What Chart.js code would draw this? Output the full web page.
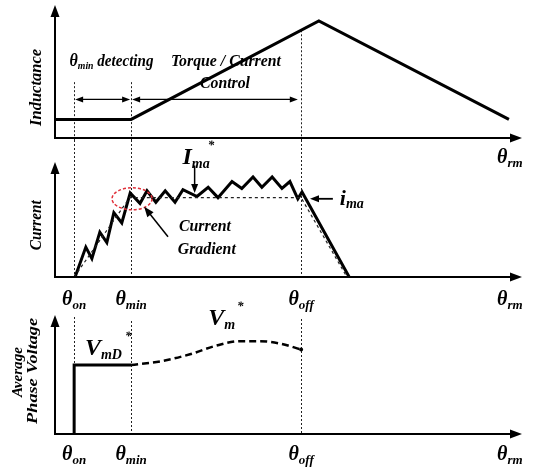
<!DOCTYPE html>
<html>
<head>
<meta charset="utf-8">
<script src="https://cdn.jsdelivr.net/npm/chart.js@4.4.0/dist/chart.umd.min.js"></script>
<style>
    html, body { margin: 0; padding: 0; background: #fff; }
    #lienzo { position: relative; width: 534px; height: 468px; overflow: hidden; }
    #lienzo canvas { position: absolute; left: 0; }
</style>
</head>
<body>
<div id="lienzo">
    <canvas id="graficaInductancia" width="534" height="170" style="top:0px"></canvas>
    <canvas id="graficaCorriente" width="534" height="175" style="top:140px"></canvas>
    <canvas id="graficaTension" width="534" height="168" style="top:300px"></canvas>
</div>
<script>
// posiciones angulares (unidades del eje theta_rm, 0..100)
const thetaOn = 4.1;
const thetaMin = 16.3;
const thetaOff = 52.7;
const thetaRm = 97.4;
const ticksTheta = [thetaOn, thetaMin, thetaOff, thetaRm];
const ticksSub = ['on', 'min', 'off', 'rm'];

// inductancia
const inductanciaX = [0, 16.3, 56.5, 97.2];
const inductanciaY = [1.4, 1.4, 8.8, 1.4];

// corriente de fase i_ma y referencia I_ma*
const corrienteX = [4.3, 6.6, 7.9, 9.6, 11.1, 12.6, 14.3, 16.1, 18.2, 19.7, 21.6, 23.6, 25.7, 27.4,
    30.4, 32.8, 34.9, 37.9, 40.0, 42.4, 44.3, 46.5, 48.6, 50.3, 52.0, 52.9, 63.0];
const corrienteY = [0, 2.6, 1.6, 3.9, 3.0, 5.6, 4.7, 7.3, 6.4, 7.5, 6.5, 7.5, 6.5, 7.6,
    7.0, 7.8, 6.9, 8.3, 7.7, 8.7, 7.8, 8.7, 7.7, 8.3, 6.8, 7.4, 0];
const referenciaX = [4.1, 16.0, 52.7, 62.5];
const referenciaY = [0, 6.9, 6.9, 0];

// tension media de fase
const tensionX = [4.1, 4.1, 16.3];
const tensionY = [0, 5.8, 5.8];
const tensionRefX = [16.3, 22.5, 28.9, 34.3, 39.6, 43.9, 48.2, 52.7];
const tensionRefY = [5.8, 6.1, 6.7, 7.4, 7.8, 7.8, 7.6, 7.1];

const FUENTE = '"Liberation Serif", "DejaVu Serif", serif';

function puntos(xs, ys) {
    return xs.map((x, i) => ({ x: x, y: ys[i] }));
}

function flecha(ctx, x, y, ang, largo, ancho) {
    ctx.save();
    ctx.translate(x, y);
    ctx.rotate(ang);
    ctx.beginPath();
    ctx.moveTo(0, 0);
    ctx.lineTo(-largo, -ancho);
    ctx.lineTo(-largo, ancho);
    ctx.closePath();
    ctx.fill();
    ctx.restore();
}

function lineaFlecha(ctx, x1, y1, x2, y2, grosor, largo, punta, doble) {
    const ang = Math.atan2(y2 - y1, x2 - x1);
    const c = Math.cos(ang), s = Math.sin(ang);
    ctx.save();
    ctx.strokeStyle = '#000';
    ctx.fillStyle = '#000';
    ctx.lineWidth = grosor;
    ctx.beginPath();
    if (doble) ctx.moveTo(x1 + c * largo * 0.7, y1 + s * largo * 0.7);
    else ctx.moveTo(x1, y1);
    ctx.lineTo(x2 - c * largo * 0.7, y2 - s * largo * 0.7);
    ctx.stroke();
    flecha(ctx, x2, y2, ang, largo, punta);
    if (doble) flecha(ctx, x1, y1, ang + Math.PI, largo, punta);
    ctx.restore();
}

// partes: [texto, tamano, dy, dx]
function texto(ctx, x, y, partes, opts = {}) {
    ctx.save();
    ctx.fillStyle = '#000';
    let total = 0;
    const medidas = partes.map(p => {
        ctx.font = `bold italic ${p[1]}px ${FUENTE}`;
        const w = ctx.measureText(p[0]).width;
        total += w;
        return w;
    });
    const esc = opts.ancho ? opts.ancho / total : 1;
    ctx.translate(x, y);
    if (opts.rot) ctx.rotate(opts.rot);
    ctx.scale(esc, 1);
    ctx.textBaseline = 'alphabetic';
    let cx = opts.align === 'left' ? 0 : -total / 2;
    partes.forEach((p, i) => {
        ctx.font = `bold italic ${p[1]}px ${FUENTE}`;
        ctx.fillText(p[0], cx + (p[3] || 0), p[2] || 0);
        cx += medidas[i];
    });
    ctx.restore();
}

function ejes(chart) {
    const ctx = chart.ctx;
    const a = chart.chartArea;
    ctx.save();
    ctx.strokeStyle = '#000';
    ctx.fillStyle = '#000';
    ctx.lineWidth = 2;
    ctx.beginPath();
    ctx.moveTo(a.left, a.bottom);
    ctx.lineTo(a.left, a.top + 8);
    ctx.moveTo(a.left - 1, a.bottom);
    ctx.lineTo(a.right - 8, a.bottom);
    ctx.stroke();
    flecha(ctx, a.left, a.top, -Math.PI / 2, 12, 4.5);
    flecha(ctx, a.right, a.bottom, 0, 12, 4.5);
    ctx.restore();
}

function guias(chart, desde, hasta) {
    const ctx = chart.ctx;
    const xs = chart.scales.x;
    ctx.save();
    ctx.strokeStyle = '#222';
    ctx.lineWidth = 1;
    ctx.setLineDash([2, 2]);
    [thetaOn, thetaMin, thetaOff].forEach((t, i) => {
        const x = Math.round(xs.getPixelForValue(t)) + 0.5;
        ctx.beginPath();
        ctx.moveTo(x, desde[i]);
        ctx.lineTo(x, hasta);
        ctx.stroke();
    });
    ctx.restore();
}

function etiquetasTheta(chart, base, todas) {
    const xs = chart.scales.x;
    ticksTheta.forEach((t, i) => {
        if (!todas && i < 3) return;
        texto(chart.ctx, xs.getPixelForValue(t), base, [['θ', 20], [ticksSub[i], 13, 4]]);
    });
}

function opcionesBase(padding) {
    return {
        responsive: false,
        animation: false,
        events: [],
        layout: { padding: padding },
        plugins: { legend: { display: false }, tooltip: { enabled: false } },
        elements: { point: { radius: 0 }, line: { tension: 0, borderCapStyle: 'butt' } },
        scales: {
            x: { type: 'linear', min: 0, max: 100, display: false },
            y: { min: 0, max: 10, display: false }
        }
    };
}

function initCharts() {
    // --- inductancia ---
    new Chart(document.getElementById('graficaInductancia'), {
        type: 'line',
        data: {
            datasets: [{
                data: puntos(inductanciaX, inductanciaY),
                borderColor: '#000',
                borderWidth: 3
            }]
        },
        options: opcionesBase({ left: 55, right: 12, top: 5, bottom: 32 }),
        plugins: [{
            id: 'anotInductancia',
            beforeDatasetsDraw(chart) {
                const ys = chart.scales.y;
                guias(chart, [ys.getPixelForValue(4.2), ys.getPixelForValue(4.2), ys.getPixelForValue(8.1)],
                    chart.chartArea.bottom + 2);
            },
            afterDatasetsDraw(chart) {
                const ctx = chart.ctx;
                const xs = chart.scales.x, ys = chart.scales.y;
                const a = chart.chartArea;
                ejes(chart);
                const yf = ys.getPixelForValue(2.9);
                lineaFlecha(ctx, xs.getPixelForValue(thetaOn) + 1, yf, xs.getPixelForValue(thetaMin) - 1, yf, 1.2, 8, 3, true);
                lineaFlecha(ctx, xs.getPixelForValue(thetaMin) + 1, yf, xs.getPixelForValue(52.0), yf, 1.2, 8, 3, true);
                texto(ctx, xs.getPixelForValue(12.1), ys.getPixelForValue(5.4),
                    [['θ', 18], ['min', 11, 3], [' detecting', 17]], { ancho: 84 });
                texto(ctx, xs.getPixelForValue(36.6), ys.getPixelForValue(5.4),
                    [['Torque / Current', 17]], { ancho: 110 });
                texto(ctx, xs.getPixelForValue(36.4), ys.getPixelForValue(3.76),
                    [['Control', 17]], { ancho: 50 });
                texto(ctx, a.left - 14, ys.getPixelForValue(3.8), [['Inductance', 17]],
                    { rot: -Math.PI / 2, ancho: 77 });
                etiquetasTheta(chart, a.bottom + 25, false);
            }
        }]
    });

    // --- corriente ---
    new Chart(document.getElementById('graficaCorriente'), {
        type: 'line',
        data: {
            datasets: [
                {
                    data: puntos(referenciaX, referenciaY),
                    borderColor: '#222',
                    borderWidth: 1.2,
                    borderDash: [3, 3]
                },
                {
                    data: puntos(corrienteX, corrienteY),
                    borderColor: '#000',
                    borderWidth: 3
                }
            ]
        },
        options: opcionesBase({ left: 55, right: 12, top: 22, bottom: 38 }),
        plugins: [{
            id: 'anotCorriente',
            beforeDatasetsDraw(chart) {
                guias(chart, [0, 0, 0], chart.chartArea.bottom);
            },
            afterDatasetsDraw(chart) {
                const ctx = chart.ctx;
                const xs = chart.scales.x, ys = chart.scales.y;
                const a = chart.chartArea;
                ejes(chart);
                // zona del gradiente
                ctx.save();
                ctx.strokeStyle = '#e0303a';
                ctx.lineWidth = 1.5;
                ctx.setLineDash([3, 2]);
                ctx.beginPath();
                ctx.ellipse(xs.getPixelForValue(16.5), ys.getPixelForValue(6.8), 20, 11, 0, 0, Math.PI * 2);
                ctx.stroke();
                ctx.restore();
                lineaFlecha(ctx, xs.getPixelForValue(24.2), ys.getPixelForValue(3.5),
                    xs.getPixelForValue(19.1), ys.getPixelForValue(6.1), 1.5, 10, 4, false);
                texto(ctx, xs.getPixelForValue(32.1), ys.getPixelForValue(4.0), [['Current', 17]], { ancho: 52 });
                texto(ctx, xs.getPixelForValue(32.5), ys.getPixelForValue(2.0), [['Gradient', 17]], { ancho: 58 });
                // I_ma*
                lineaFlecha(ctx, xs.getPixelForValue(29.9), ys.getPixelForValue(9.7),
                    xs.getPixelForValue(29.9), ys.getPixelForValue(7.3), 1.5, 9, 3.5, false);
                texto(ctx, xs.getPixelForValue(27.3), ys.getPixelForValue(9.8),
                    [['I', 24], ['ma', 14, 4], ['*', 13, -15, -2]], { align: 'left' });
                // i_ma
                lineaFlecha(ctx, xs.getPixelForValue(59.5), ys.getPixelForValue(6.8),
                    xs.getPixelForValue(54.6), ys.getPixelForValue(6.8), 1.8, 9, 3.5, false);
                texto(ctx, xs.getPixelForValue(61.0), ys.getPixelForValue(6.3),
                    [['i', 22], ['ma', 14, 3]], { align: 'left' });
                texto(ctx, a.left - 14, ys.getPixelForValue(4.5), [['Current', 17]],
                    { rot: -Math.PI / 2, ancho: 50 });
                etiquetasTheta(chart, a.bottom + 28, true);
            }
        }]
    });

    // --- tension ---
    new Chart(document.getElementById('graficaTension'), {
        type: 'line',
        data: {
            datasets: [
                {
                    data: puntos(tensionRefX, tensionRefY),
                    borderColor: '#000',
                    borderWidth: 2.5,
                    borderDash: [7, 4],
                    cubicInterpolationMode: 'monotone',
                    pointRadius: tensionRefX.map((v, i) => i === tensionRefX.length - 1 ? 2 : 0),
                    pointBackgroundColor: '#000',
                    pointBorderWidth: 0
                },
                {
                    data: puntos(tensionX, tensionY),
                    borderColor: '#000',
                    borderWidth: 3,
                    borderJoinStyle: 'miter'
                }
            ]
        },
        options: opcionesBase({ left: 55, right: 12, top: 15, bottom: 34 }),
        plugins: [{
            id: 'anotTension',
            beforeDatasetsDraw(chart) {
                const t = chart.chartArea.top + 2;
                guias(chart, [t, t + 4, t + 2], chart.chartArea.bottom);
            },
            afterDatasetsDraw(chart) {
                const ctx = chart.ctx;
                const xs = chart.scales.x, ys = chart.scales.y;
                const a = chart.chartArea;
                ejes(chart);
                texto(ctx, xs.getPixelForValue(6.4), ys.getPixelForValue(6.6),
                    [['V', 24], ['mD', 14, 4], ['*', 13, -15, 3]], { align: 'left' });
                texto(ctx, xs.getPixelForValue(32.8), ys.getPixelForValue(9.2),
                    [['V', 24], ['m', 14, 4], ['*', 13, -15, 2]], { align: 'left' });
                texto(ctx, a.left - 33, ys.getPixelForValue(5.2), [['Average', 14]],
                    { rot: -Math.PI / 2, ancho: 50 });
                texto(ctx, a.left - 18, ys.getPixelForValue(5.3), [['Phase Voltage', 14]],
                    { rot: -Math.PI / 2, ancho: 106 });
                etiquetasTheta(chart, a.bottom + 26, true);
            }
        }]
    });
}

document.addEventListener('DOMContentLoaded', initCharts);
</script>
</body>
</html>
